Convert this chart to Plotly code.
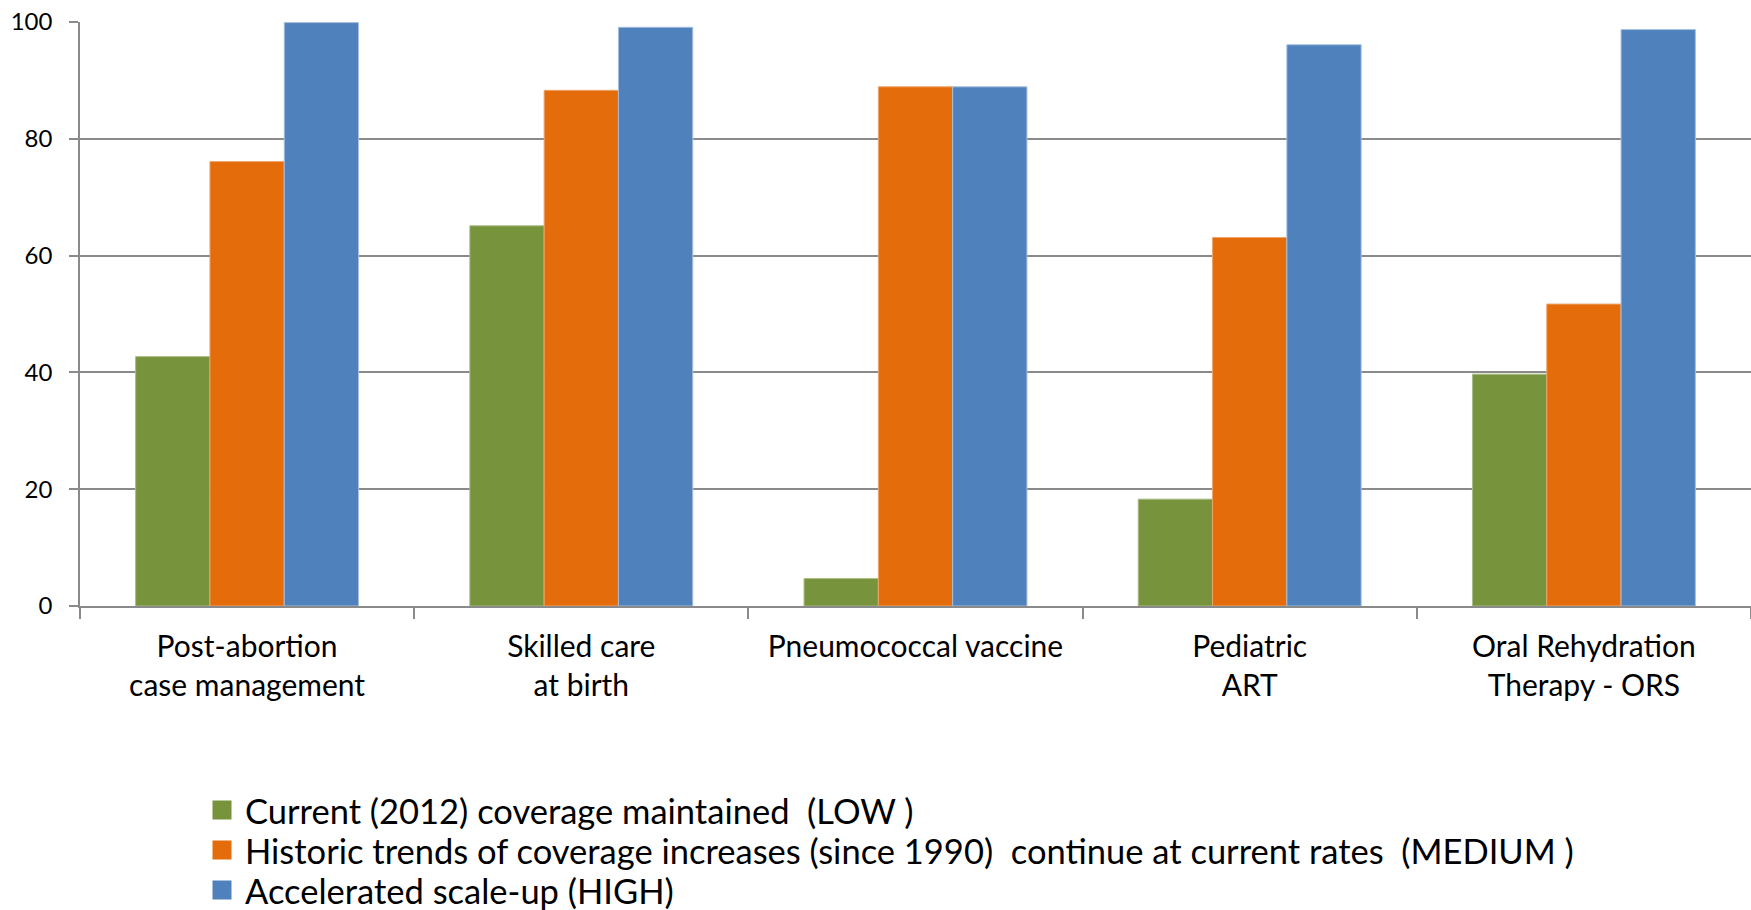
import plotly.graph_objects as go

# Intervention categories (two-line axis labels)
categories = [
    "Post-abortion<br>case management",
    "Skilled care<br>at birth",
    "Pneumococcal vaccine",
    "Pediatric<br>ART",
    "Oral Rehydration<br>Therapy - ORS",
]

# Coverage (%) under each scenario
low_values = [42.7, 65.1, 4.7, 18.3, 39.7]
medium_values = [76.1, 88.3, 88.9, 63.1, 51.7]
high_values = [99.9, 99.1, 88.9, 96.1, 98.7]

series_names = [
    "Current (2012) coverage maintained  (LOW )",
    "Historic trends of coverage increases (since 1990)  continue at current rates  (MEDIUM )",
    "Accelerated scale-up (HIGH)",
]
series_values = [low_values, medium_values, high_values]
series_colors = ["#77933C", "#E46C0A", "#4F81BD"]
edge_colors = ["#A9BD85", "#F0A46A", "#A7C0DE"]

y_ticks = [0, 20, 40, 60, 80, 100]

FONT = "Lato, 'Open Sans', sans-serif"
AXIS_GREY = "#8A8A8A"

fig = go.Figure()
for name, vals, col, edge in zip(series_names, series_values, series_colors, edge_colors):
    fig.add_trace(go.Bar(
        x=categories, y=vals, name=name,
        marker=dict(color=col, line=dict(color=edge, width=1)),
        showlegend=False,
    ))

# Legend drawn as coloured squares with text, one row per scenario
row_y_px = [810, 850, 890]
plot_top, plot_bottom = 22, 606
plot_h = plot_bottom - plot_top
plot_left, plot_w = 80, 1751 - 80
sq_left_px, sq_size = 212, 20
text_left_px = 243
for name, col, ypx in zip(series_names, series_colors, row_y_px):
    yc = (plot_bottom - ypx) / plot_h
    half = (sq_size / 2) / plot_h
    fig.add_shape(
        type="rect", xref="paper", yref="paper",
        x0=(sq_left_px - plot_left) / plot_w,
        x1=(sq_left_px + sq_size - plot_left) / plot_w,
        y0=yc - half, y1=yc + half,
        fillcolor=col, line=dict(color="#FFFFFF", width=1),
    )
    fig.add_annotation(
        xref="paper", yref="paper",
        x=(text_left_px - plot_left) / plot_w, y=yc,
        xanchor="left", yanchor="middle",
        text=name, showarrow=False,
        font=dict(family=FONT, size=34.5, color="#000000"),
    )

fig.update_layout(
    width=1751, height=910,
    margin=dict(l=plot_left, r=0, t=plot_top, b=910 - plot_bottom, pad=0),
    paper_bgcolor="white", plot_bgcolor="white",
    barmode="group", bargap=0.333, bargroupgap=0,
    font=dict(family=FONT, color="#000000"),
)

fig.update_xaxes(
    showline=True, linecolor=AXIS_GREY, linewidth=1.5,
    ticks="outside", tickson="boundaries", ticklen=11,
    tickcolor=AXIS_GREY, tickwidth=1.5,
    tickfont=dict(family=FONT, size=30, color="#000000"),
    showgrid=False, ticklabelstandoff=13,
)
fig.update_yaxes(
    range=[0, 100], tickvals=y_ticks,
    showline=True, linecolor=AXIS_GREY, linewidth=1.5,
    showgrid=True, gridcolor=AXIS_GREY, gridwidth=1.5,
    ticks="outside", ticklen=9, tickcolor=AXIS_GREY, tickwidth=1.5,
    tickfont=dict(family=FONT, size=24, color="#000000"),
    zeroline=False, ticklabelstandoff=12,
)

fig.write_html("out.html")
